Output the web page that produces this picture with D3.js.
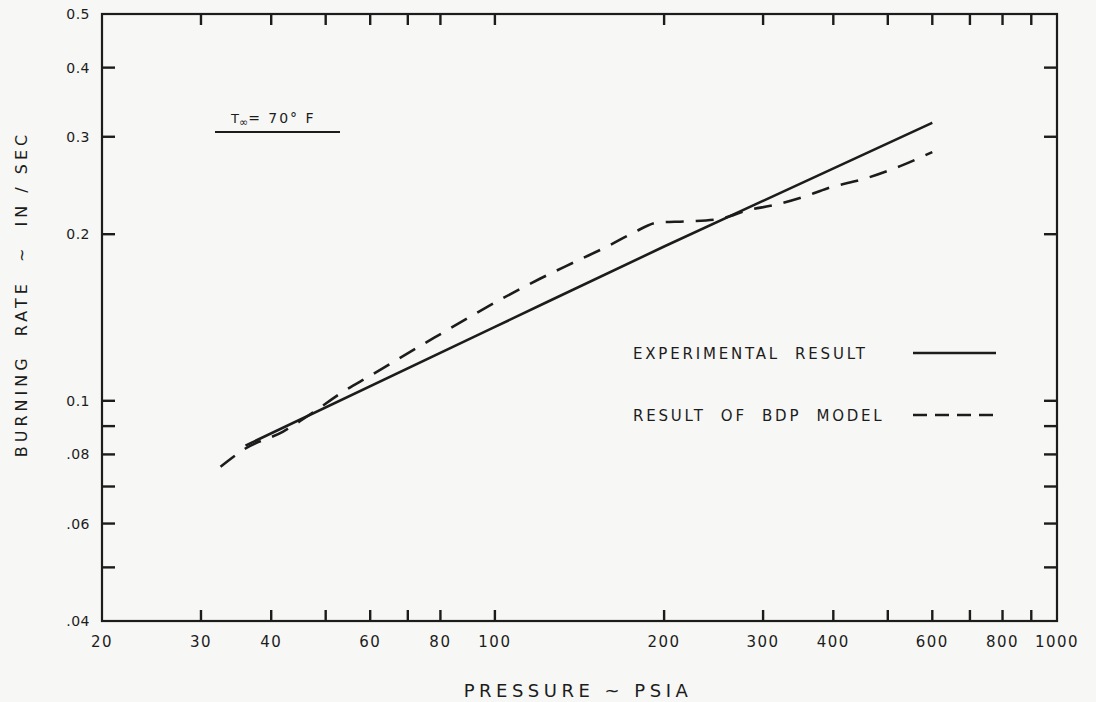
<!DOCTYPE html>
<html>
<head>
<meta charset="utf-8">
<script src="https://cdn.jsdelivr.net/npm/d3@7"></script>
<style>
  body { margin: 0; background: #f7f7f5; }
  svg { display: block; }
  text { font-family: "DejaVu Sans", sans-serif; fill: #1c1c1c; }
</style>
</head>
<body>
<div id="chart"></div>
<script>
const width = 1096,
  height = 702;

// pressure (psia) vs burning rate (in/sec)
const experimental = [
  [36, 0.083],
  [100, 0.136],
  [200, 0.19],
  [600, 0.318],
];
const bdpModel = [
  [32.5, 0.076], [36, 0.082], [42, 0.088], [48, 0.096], [53, 0.103],
  [60, 0.111], [78, 0.13], [103, 0.153], [120, 0.166], [140, 0.179],
  [160, 0.191], [176, 0.201], [195, 0.21], [220, 0.211], [250, 0.213],
  [282, 0.221], [315, 0.226], [356, 0.234], [390, 0.242], [458, 0.2525],
  [526, 0.2655], [600, 0.2815],
];
const xTicks = [30, 40, 50, 60, 70, 80, 100, 200, 300, 400, 500, 600, 700, 800, 900];
const xLabels = [20, 30, 40, 60, 80, 100, 200, 300, 400, 600, 800, 1000];
const yTicks = [0.05, 0.06, 0.07, 0.08, 0.09, 0.1, 0.2, 0.3, 0.4];
const yLabels = [0.04, 0.06, 0.08, 0.1, 0.2, 0.3, 0.4, 0.5];

const x = d3.scaleLog().domain([20, 1000]).range([102, 1057]);
const y = d3.scaleLog().domain([0.04, 0.5]).range([621, 14]);

const svg = d3
  .select("#chart")
  .append("svg")
  .attr("width", width)
  .attr("height", height);

const ink = "#1c1c1c";
const tick = 11;

// frame
svg
  .append("rect")
  .attr("x", x(20))
  .attr("y", y(0.5))
  .attr("width", x(1000) - x(20))
  .attr("height", y(0.04) - y(0.5))
  .attr("fill", "none")
  .attr("stroke", ink)
  .attr("stroke-width", 2.2);

// inward ticks on all four sides
const ticks = svg.append("g").attr("stroke", ink).attr("stroke-width", 2.4);
xTicks.forEach(function (v) {
  ticks.append("line").attr("x1", x(v)).attr("x2", x(v))
    .attr("y1", y(0.04)).attr("y2", y(0.04) - tick);
  ticks.append("line").attr("x1", x(v)).attr("x2", x(v))
    .attr("y1", y(0.5)).attr("y2", y(0.5) + tick);
});
yTicks.forEach(function (v) {
  ticks.append("line").attr("y1", y(v)).attr("y2", y(v))
    .attr("x1", x(20)).attr("x2", x(20) + tick + 2);
  ticks.append("line").attr("y1", y(v)).attr("y2", y(v))
    .attr("x1", x(1000)).attr("x2", x(1000) - tick - 2);
});

// tick labels
svg
  .selectAll(".xlab")
  .data(xLabels)
  .enter()
  .append("text")
  .attr("x", (d) => x(d))
  .attr("y", 647)
  .attr("text-anchor", "middle")
  .attr("font-size", 15)
  .attr("letter-spacing", 1.5)
  .text((d) => d);

svg
  .selectAll(".ylab")
  .data(yLabels)
  .enter()
  .append("text")
  .attr("x", 90)
  .attr("y", (d) => y(d) + 5)
  .attr("text-anchor", "end")
  .attr("font-size", 14)
  .attr("letter-spacing", 0.5)
  .text((d) => (d >= 0.1 ? d3.format(".1f")(d) : d3.format(".2f")(d).slice(1)));

// axis titles
svg
  .append("text")
  .attr("x", 578)
  .attr("y", 697)
  .attr("text-anchor", "middle")
  .attr("font-size", 18)
  .attr("letter-spacing", 4.5)
  .text("PRESSURE ~ PSIA");

svg
  .append("text")
  .attr("transform", "translate(27,294) rotate(-90)")
  .attr("text-anchor", "middle")
  .attr("font-size", 16)
  .attr("letter-spacing", 4)
  .attr("xml:space", "preserve")
  .text("BURNING  RATE  ~  IN / SEC");

// curves
const line = d3
  .line()
  .x((d) => x(d[0]))
  .y((d) => y(d[1]))
  .curve(d3.curveMonotoneX);

svg
  .append("path")
  .datum(experimental)
  .attr("d", line)
  .attr("fill", "none")
  .attr("stroke", ink)
  .attr("stroke-width", 2.6);

svg
  .append("path")
  .datum(bdpModel)
  .attr("d", line)
  .attr("fill", "none")
  .attr("stroke", ink)
  .attr("stroke-width", 2.6)
  .attr("stroke-dasharray", "18 12");

// temperature note
const note = svg.append("text").attr("x", 231).attr("y", 123).attr("font-size", 14);
note.append("tspan").attr("font-size", 13).text("T");
note.append("tspan").attr("dy", 3).attr("font-size", 11).text("∞");
note.append("tspan").attr("dy", -3).attr("letter-spacing", 2)
  .attr("xml:space", "preserve").text("= 70° F");
svg.append("line").attr("x1", 215).attr("x2", 340).attr("y1", 132).attr("y2", 132)
  .attr("stroke", ink).attr("stroke-width", 2.2);

// legend
const legend = [
  { label: "EXPERIMENTAL  RESULT", dash: null, y: 353 },
  { label: "RESULT  OF  BDP  MODEL", dash: "14 8", y: 415 },
];
legend.forEach(function (d) {
  svg.append("text")
    .attr("x", 633)
    .attr("y", d.y + 6)
    .attr("font-size", 15)
    .attr("letter-spacing", 2.8)
    .attr("xml:space", "preserve")
    .text(d.label);
  svg.append("line")
    .attr("x1", 913).attr("x2", 996)
    .attr("y1", d.y).attr("y2", d.y)
    .attr("stroke", ink)
    .attr("stroke-width", 2.6)
    .attr("stroke-dasharray", d.dash);
});
</script>
</body>
</html>
